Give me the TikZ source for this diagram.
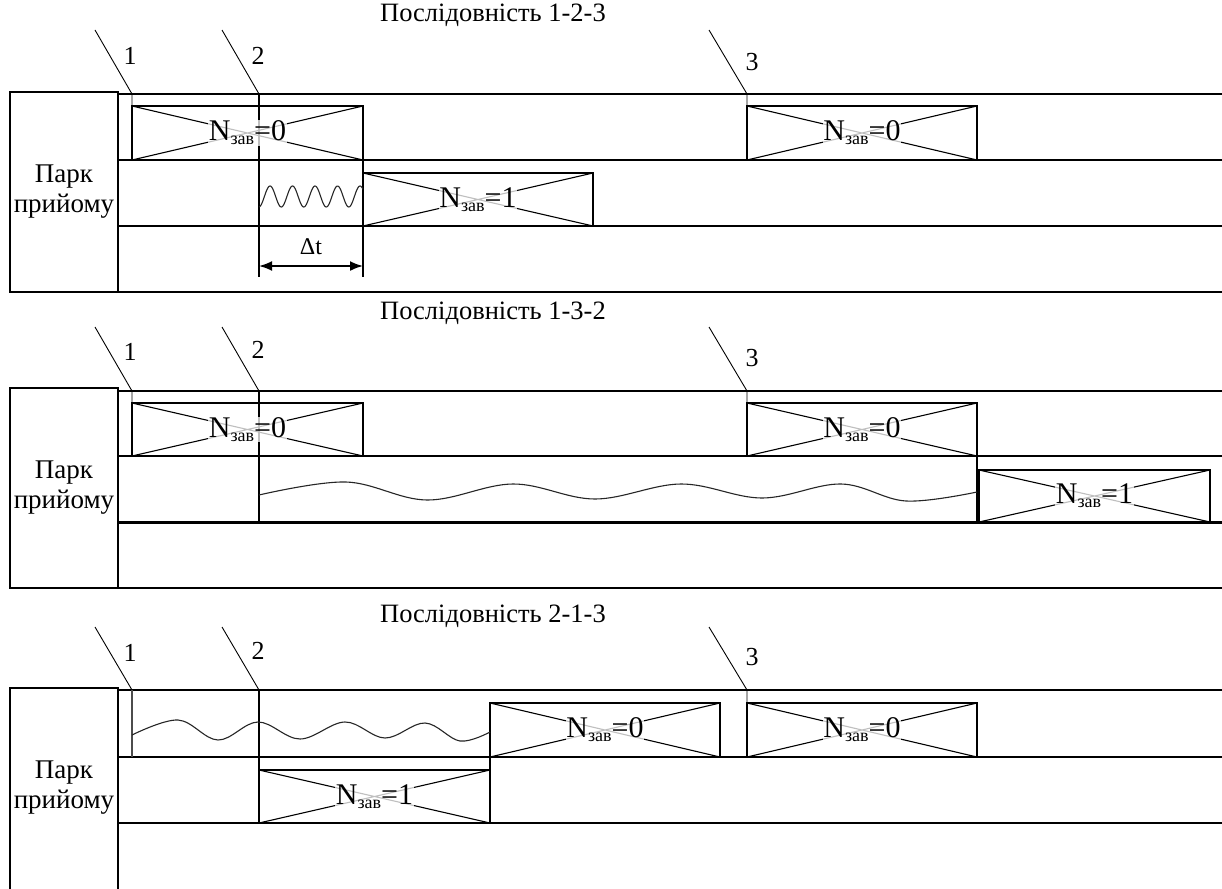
\documentclass[tikz,border=0pt]{standalone}
\usepackage{fontspec}
\setmainfont{Liberation Serif}
\usetikzlibrary{arrows.meta}
\newcommand{\nz}[1]{{\fontsize{30}{30}\selectfont N\raisebox{-0.3ex}{\fontsize{18}{18}\selectfont зав}=#1}}
\newcommand{\tbox}[6]{%
  \node[trainbox, minimum width={(#4-#2)*1pt}, minimum height={(#5-#3)*1pt}] (#1) at ({(#2+#4)/2},{(#3+#5)/2}) {};
  \draw[diag] (#1.north west) -- (#1.south east) (#1.south west) -- (#1.north east);
  \node[ztext] (#1-t) at (#1.center) {\nz{#6}};
}
\begin{document}
\begin{tikzpicture}[x=1pt,y=-1pt, line width=1.3pt,
 track/.style={line width=1.5pt},
 thicktrack/.style={line width=3pt},
 pointer/.style={line width=0.9pt},
 trainbox/.style={draw, line width=1.4pt, rectangle, inner sep=0pt, outer sep=0pt},
 diag/.style={line width=1.1pt},
 ztext/.style={fill=white, fill opacity=0.75, text opacity=1, inner sep=0.5pt},
 lbl/.style={font=\fontsize{26}{26}\selectfont, inner sep=0pt},
 ttl/.style={font=\fontsize{26.5}{26.5}\selectfont, inner sep=0pt},
 park/.style={draw, line width=1.5pt, font=\fontsize{27}{30}\selectfont, align=center, inner sep=0pt, outer sep=0pt, minimum width=108pt},
 wave/.style={line width=1.1pt, black!85},
 dtarrow/.style={{Latex[length=13pt,width=10pt]}-{Latex[length=13pt,width=10pt]}, line width=1.8pt}
]
\useasboundingbox[fill=white] (0,0) rectangle (1222,888);

% ================= panel 1 =================
\node[ttl] (title1) at (493,15) {Послідовність 1-2-3};
\node[park, minimum height=200pt] (park1) at (64,192) {Парк\\прийому};
\draw[track] (park1.north east |- 0,94) -- (1222,94);
\draw[track] (park1.east |- 0,160) -- (1222,160);
\draw[track] (park1.east |- 0,226) -- (1222,226);
\draw[track] (park1.south west) -- (1222,292);

\coordinate (p11) at (95,30); \coordinate (p12) at (222,30); \coordinate (p13) at (709,30);
\draw[pointer] (p11) -- (132,94) -- (132,106);
\draw[pointer] (p12) -- (259,94);
\draw[pointer] (p13) -- (747,94) -- (747,106);
\node[lbl] (l11) at (130,56) {1};
\node[lbl] (l12) at (258,56) {2};
\node[lbl] (l13) at (752,62) {3};

\draw[track] (259,94) -- (259,277);
\draw[track] (363,160) -- (363,277);

\tbox{b11}{132}{106}{363}{160}{0}
\tbox{b13}{747}{106}{977}{160}{0}
\tbox{b12}{363}{173}{593}{226}{1}

\draw[wave] plot[domain=259:363, samples=150] (\x, {196.5 - 10.5*sin(16*(\x-264.4))});

\coordinate (dt1) at (259,266); \coordinate (dt2) at (363,266);
\draw[dtarrow] (dt1) -- (dt2);
\node[lbl, font=\fontsize{24}{24}\selectfont] (dtl) at (311,247) {Δt};

% ================= panel 2 =================
\node[ttl] (title2) at (493,313) {Послідовність 1-3-2};
\node[park, minimum height=200pt] (park2) at (64,488) {Парк\\прийому};
\draw[track] (park2.north east |- 0,391) -- (1222,391);
\draw[track] (park2.east |- 0,456) -- (1222,456);
\draw[thicktrack] (park2.east |- 0,522) -- (1222,522);
\draw[track] (park2.south west) -- (1222,588);

\coordinate (p21) at (95,327); \coordinate (p22) at (222,327); \coordinate (p23) at (709,327);
\draw[pointer] (p21) -- (132,391) -- (132,403);
\draw[pointer] (p22) -- (259,391);
\draw[pointer] (p23) -- (747,391) -- (747,403);
\node[lbl] (l21) at (130,352) {1};
\node[lbl] (l22) at (258,350) {2};
\node[lbl] (l23) at (752,358) {3};

\draw[track] (259,391) -- (259,522);
\draw[track] (977,456) -- (977,522);

\tbox{b21}{132}{403}{363}{456}{0}
\tbox{b23}{747}{403}{977}{456}{0}
\tbox{b22}{979}{470}{1210}{522}{1}

\draw[wave] plot[smooth, tension=0.6] coordinates {(259,495) (346,482) (427,500) (513,484) (595,499) (681,484) (762,498) (841,484) (906,501) (977,492)};

% ================= panel 3 =================
\node[ttl] (title3) at (493,616) {Послідовність 2-1-3};
\node[park, draw=none, minimum height=200pt] (park3) at (64,788) {Парк\\прийому};
\draw[track] (10,895) -- (10,688) -- (118,688) -- (118,895);
\draw[track] (118,690) -- (1222,690);
\draw[track] (118,757) -- (1222,757);
\draw[track] (118,823) -- (1222,823);

\coordinate (p31) at (95,627); \coordinate (p32) at (222,627); \coordinate (p33) at (709,627);
\draw[pointer] (p31) -- (132,690);
\draw[track, black!70] (132,690) -- (132,757);
\draw[pointer] (p32) -- (259,690);
\draw[pointer] (p33) -- (747,690) -- (747,703);
\node[lbl] (l31) at (130,653) {1};
\node[lbl] (l32) at (258,651) {2};
\node[lbl] (l33) at (752,657) {3};

\draw[track] (259,690) -- (259,823);
\draw[track] (490,703) -- (490,823);

\tbox{b31}{490}{703}{720}{757}{0}
\tbox{b33}{747}{703}{977}{757}{0}
\tbox{b32}{259}{770}{490}{823}{1}

\draw[wave] plot[smooth, tension=0.6] coordinates {(132,735) (178,720) (218,740) (258,722) (300,739) (345,722) (385,738) (425,723) (460,741) (490,732)};
\end{tikzpicture}
\end{document}
